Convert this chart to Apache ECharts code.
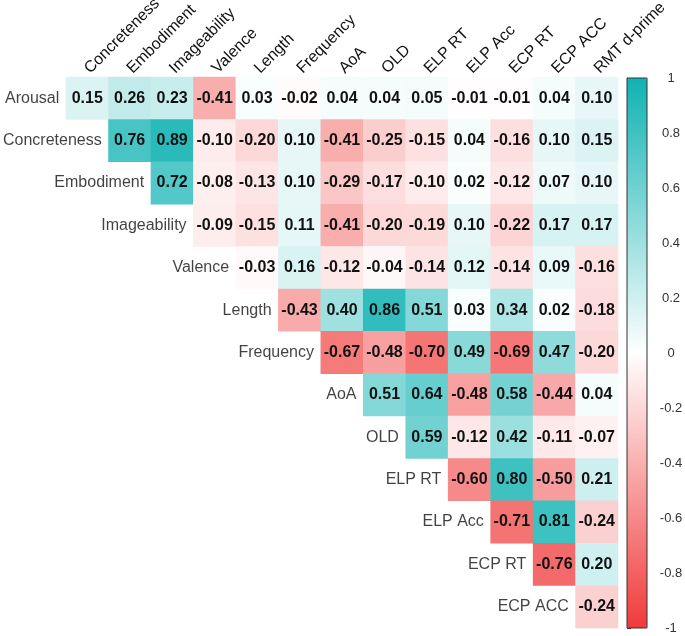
<!DOCTYPE html>
<html>
<head>
<meta charset="utf-8">
<script src="https://cdn.jsdelivr.net/npm/echarts@6/dist/echarts.min.js"></script>
<style>
html,body{margin:0;padding:0;background:#fff;}
#chart{width:685px;height:636px;}
</style>
</head>
<body>
<div id="chart"></div>
<script>
const colLabels = ['Concreteness','Embodiment','Imageability','Valence','Length','Frequency','AoA','OLD','ELP RT','ELP Acc','ECP RT','ECP ACC','RMT d-prime'];
const rowLabels = ['Arousal','Concreteness','Embodiment','Imageability','Valence','Length','Frequency','AoA','OLD','ELP RT','ELP Acc','ECP RT','ECP ACC'];

const arousal      = [0.15, 0.26, 0.23, -0.41, 0.03, -0.02, 0.04, 0.04, 0.05, -0.01, -0.01, 0.04, 0.10];
const concreteness = [0.76, 0.89, -0.10, -0.20, 0.10, -0.41, -0.25, -0.15, 0.04, -0.16, 0.10, 0.15];
const embodiment   = [0.72, -0.08, -0.13, 0.10, -0.29, -0.17, -0.10, 0.02, -0.12, 0.07, 0.10];
const imageability = [-0.09, -0.15, 0.11, -0.41, -0.20, -0.19, 0.10, -0.22, 0.17, 0.17];
const valence      = [-0.03, 0.16, -0.12, -0.04, -0.14, 0.12, -0.14, 0.09, -0.16];
const lengthRow    = [-0.43, 0.40, 0.86, 0.51, 0.03, 0.34, 0.02, -0.18];
const frequency    = [-0.67, -0.48, -0.70, 0.49, -0.69, 0.47, -0.20];
const aoa          = [0.51, 0.64, -0.48, 0.58, -0.44, 0.04];
const old          = [0.59, -0.12, 0.42, -0.11, -0.07];
const elpRT        = [-0.60, 0.80, -0.50, 0.21];
const elpAcc       = [-0.71, 0.81, -0.24];
const ecpRT        = [-0.76, 0.20];
const ecpACC       = [-0.24];

const colorbarTicks = [-1, -0.8, -0.6, -0.4, -0.2, 0, 0.2, 0.4, 0.6, 0.8, 1];

const rows = [arousal, concreteness, embodiment, imageability, valence, lengthRow, frequency, aoa, old, elpRT, elpAcc, ecpRT, ecpACC];

const heatData = [];
rows.forEach((vals, r) => {
  vals.forEach((v, j) => { heatData.push([r + j, r, v]); });
});
const rowLabelData = rowLabels.map((name, r) => [r, r]);

const FONT = "'Liberation Sans', Arial, sans-serif";
const chart = echarts.init(document.getElementById('chart'));
chart.setOption({
  animation: false,
  backgroundColor: '#fff',
  textStyle: { fontFamily: FONT },
  grid: [
    { left: 66, top: 77, width: 552, height: 551, outerBoundsMode: 'none', containLabel: false },
    { left: 627, top: 78, width: 20, height: 550, outerBoundsMode: 'none', containLabel: false,
      show: true, borderColor: '#333', borderWidth: 1, backgroundColor: 'transparent', z: 10 }
  ],
  xAxis: [
    { type: 'category', data: colLabels, position: 'top', gridIndex: 0,
      axisLine: { show: false }, axisTick: { show: false }, splitLine: { show: false },
      axisLabel: { rotate: -45, margin: 6, fontSize: 16, color: '#111', fontFamily: FONT, interval: 0 } },
    { type: 'value', gridIndex: 1, show: false, min: 0, max: 1 }
  ],
  yAxis: [
    { type: 'category', data: rowLabels, inverse: true, gridIndex: 0,
      axisLine: { show: false }, axisTick: { show: false }, axisLabel: { show: false }, splitLine: { show: false } },
    { type: 'value', gridIndex: 1, position: 'right',
      min: colorbarTicks[0], max: colorbarTicks[colorbarTicks.length - 1], interval: 0.2,
      axisLine: { show: false }, splitLine: { show: false },
      axisTick: { show: true, length: 4, lineStyle: { color: '#333' } },
      axisLabel: { color: '#333', fontSize: 13, align: 'center', margin: 24, fontFamily: FONT,
        formatter: v => String(Math.round(v * 10) / 10) } }
  ],
  visualMap: {
    type: 'continuous', min: -1, max: 1, seriesIndex: 0, calculable: false,
    orient: 'vertical', left: 627, top: 78, itemWidth: 20, itemHeight: 550, padding: 0,
    text: null, showLabel: false, hoverLink: false,
    inRange: { color: ['#F03A3A', '#FFFFFF', '#10B2B2'] }
  },
  series: [
    { type: 'heatmap', data: heatData, xAxisIndex: 0, yAxisIndex: 0,
      label: { show: true, fontSize: 16, fontWeight: 'bold', color: '#111', fontFamily: FONT,
        formatter: p => p.value[2].toFixed(2) },
      emphasis: { disabled: true } },
    { type: 'scatter', data: rowLabelData, xAxisIndex: 0, yAxisIndex: 0,
      symbol: 'rect', symbolSize: [42, 42], itemStyle: { color: 'rgba(0,0,0,0)' },
      label: { show: true, position: 'left', distance: 7, fontSize: 16, color: '#111', fontFamily: FONT,
        formatter: p => rowLabels[p.value[1]] },
      emphasis: { disabled: true }, silent: true }
  ]
});
</script>
</body>
</html>
